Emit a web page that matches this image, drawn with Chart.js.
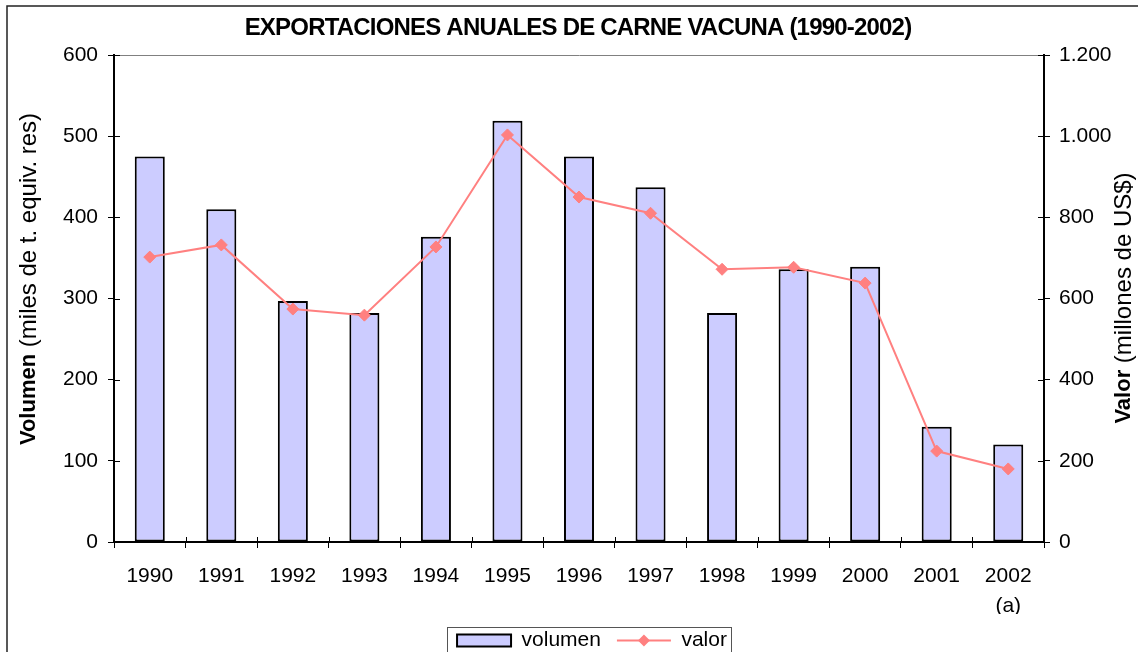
<!DOCTYPE html>
<html>
<head>
<meta charset="utf-8">
<script src="https://cdn.jsdelivr.net/npm/chart.js@4"></script>
<style>
html, body { margin: 0; padding: 0; background: #fff; overflow: hidden; }
#wrap { width: 1138px; height: 652px; overflow: hidden; }
</style>
</head>
<body>
<div id="wrap"><canvas id="chart" width="1138" height="661"></canvas></div>
<script>
var years = ["1990", "1991", "1992", "1993", "1994", "1995", "1996", "1997", "1998", "1999", "2000", "2001", "2002"];
var yearNotes = { "2002": "(a)" };
var volumen = [475, 410, 297, 282, 376, 519, 475, 437, 282, 336, 339, 142, 120];
var valor = [702, 732, 574, 559, 727, 1003, 850, 810, 672, 677, 638, 224, 180];
var volTicks = { min: 0, max: 600, step: 100 };
var valTicks = { min: 0, max: 1200, step: 200 };

var FONT = "'Liberation Sans', Arial, sans-serif";
var CANVAS_H = 661;
var PLOT_BOTTOM = 542;

function drawMixedTitle(ctx, x, y, boldText, restText) {
    ctx.save();
    ctx.translate(x, y);
    ctx.rotate(-Math.PI / 2);
    ctx.textBaseline = "middle";
    ctx.textAlign = "left";
    ctx.fillStyle = "#000";
    ctx.font = "bold 22px " + FONT;
    var w1 = ctx.measureText(boldText).width;
    ctx.font = "24px " + FONT;
    var w2 = ctx.measureText(restText).width;
    var start = -(w1 + w2) / 2;
    ctx.font = "bold 22px " + FONT;
    ctx.fillText(boldText, start, 0);
    ctx.font = "24px " + FONT;
    ctx.fillText(restText, start + w1, 0);
    ctx.restore();
}

var decor = {
    id: "decor",
    beforeDraw: function(chart) {
        var ctx = chart.ctx;
        ctx.save();
        ctx.fillStyle = "#fff";
        ctx.fillRect(0, 0, chart.width, chart.height);
        ctx.strokeStyle = "#222";
        ctx.lineWidth = 1.5;
        ctx.strokeRect(7, 6, 1200, 720);
        ctx.restore();
    },
    afterDraw: function(chart) {
        var ctx = chart.ctx;
        var area = chart.chartArea;
        ctx.save();

        // title
        ctx.fillStyle = "#000";
        ctx.font = "bold 24px " + FONT;
        ctx.letterSpacing = "-0.8px";
        ctx.textAlign = "center";
        ctx.textBaseline = "middle";
        ctx.fillText("EXPORTACIONES ANUALES DE CARNE VACUNA (1990-2002)", 578, 28);
        ctx.letterSpacing = "0px";

        // axis titles
        drawMixedTitle(ctx, 29, 279, "Volumen", " (miles de t. equiv. res)");
        drawMixedTitle(ctx, 1124, 298, "Valor", " (millones de US$)");

        // inward tick marks
        ctx.strokeStyle = "#000";
        ctx.lineWidth = 1;
        ctx.beginPath();
        chart.scales.yVol.ticks.forEach(function(t) {
            var y = Math.round(chart.scales.yVol.getPixelForValue(t.value)) + 0.5;
            ctx.moveTo(area.left, y);
            ctx.lineTo(area.left + 6, y);
        });
        chart.scales.yVal.ticks.forEach(function(t) {
            var y = Math.round(chart.scales.yVal.getPixelForValue(t.value)) + 0.5;
            ctx.moveTo(area.right - 6, y);
            ctx.lineTo(area.right, y);
        });
        var n = years.length;
        for (var i = 0; i <= n; i++) {
            var x = Math.round(area.left + i * (area.right - area.left) / n) + 0.5;
            ctx.moveTo(x, area.bottom - 5);
            ctx.lineTo(x, area.bottom);
        }
        ctx.stroke();

        // legend frame and line swatch
        var boxes = chart.legend.legendHitBoxes;
        if (boxes && boxes.length === 2) {
            var first = boxes[0], last = boxes[1];
            var cy = first.top + first.height / 2;
            ctx.strokeStyle = "#555";
            ctx.lineWidth = 1;
            ctx.strokeRect(Math.round(first.left - 10) + 0.5, Math.round(cy - 14) + 0.5,
                Math.round(last.left + last.width + 4 - (first.left - 10)), 80);
            ctx.strokeStyle = "#FF8080";
            ctx.lineWidth = 2;
            ctx.beginPath();
            ctx.moveTo(last.left, cy);
            ctx.lineTo(last.left + 54, cy);
            ctx.stroke();
            ctx.fillStyle = "#FF8080";
            ctx.beginPath();
            ctx.moveTo(last.left + 27 - 6, cy);
            ctx.lineTo(last.left + 27, cy - 6);
            ctx.lineTo(last.left + 27 + 6, cy);
            ctx.lineTo(last.left + 27, cy + 6);
            ctx.closePath();
            ctx.fill();
        }
        ctx.restore();
    }
};

var ctx = document.getElementById("chart").getContext("2d");
var chart = new Chart(ctx, {
    type: "bar",
    data: {
        labels: years,
        datasets: [{
            type: "bar",
            label: "volumen",
            data: volumen,
            yAxisID: "yVol",
            backgroundColor: "#CCCCFF",
            borderColor: "#000000",
            borderWidth: 2,
            borderSkipped: false,
            barPercentage: 0.42,
            categoryPercentage: 1,
            order: 2
        }, {
            type: "line",
            label: "valor",
            data: valor,
            yAxisID: "yVal",
            borderColor: "#FF8080",
            backgroundColor: "#FF8080",
            borderWidth: 2,
            pointStyle: "rectRot",
            pointRadius: 6,
            pointBorderColor: "#FF8080",
            pointBackgroundColor: "#FF8080",
            pointBorderWidth: 1,
            tension: 0,
            fill: false,
            order: 1
        }]
    },
    options: {
        responsive: false,
        animation: false,
        layout: { padding: { left: 46, top: 55, right: 0, bottom: 0 } },
        scales: {
            x: {
                offset: true,
                grid: { display: true, drawOnChartArea: false, tickLength: 6, color: "#000", offset: true },
                border: { color: "#000", width: 2 },
                ticks: {
                    color: "#000",
                    font: { family: FONT, size: 21, lineHeight: 1.45 },
                    padding: 13,
                    maxRotation: 0,
                    autoSkip: false,
                    callback: function(value, index) {
                        var y = years[index];
                        return yearNotes[y] ? [y, yearNotes[y]] : y;
                    }
                },
                afterFit: function(scale) {
                    scale.height = CANVAS_H - PLOT_BOTTOM - scale.chart.legend.height;
                }
            },
            yVol: {
                position: "left",
                min: volTicks.min,
                max: volTicks.max,
                ticks: { stepSize: volTicks.step, color: "#000", font: { family: FONT, size: 21 }, padding: 10 },
                grid: {
                    color: function(c) { return c.tick && c.tick.value === volTicks.max ? "#808080" : "rgba(0,0,0,0)"; },
                    tickColor: "#000",
                    tickLength: 6,
                    lineWidth: 1
                },
                border: { color: "#000", width: 2 },
                afterFit: function(scale) { scale.width = 68; }
            },
            yVal: {
                position: "right",
                min: valTicks.min,
                max: valTicks.max,
                ticks: {
                    stepSize: valTicks.step,
                    color: "#000",
                    font: { family: FONT, size: 21 },
                    padding: 9,
                    callback: function(v) { return String(v).replace(/\B(?=(\d{3})+(?!\d))/g, "."); }
                },
                grid: { drawOnChartArea: false, tickColor: "#000", tickLength: 6 },
                border: { color: "#000", width: 2 },
                afterFit: function(scale) { scale.width = 94; }
            }
        },
        plugins: {
            title: { display: false },
            tooltip: { enabled: false },
            legend: {
                position: "bottom",
                labels: {
                    color: "#000",
                    font: { family: FONT, size: 21 },
                    boxWidth: 54,
                    boxHeight: 12,
                    padding: 16,
                    sort: function(a, b) { return a.datasetIndex - b.datasetIndex; },
                    generateLabels: function(chart) {
                        var items = Chart.defaults.plugins.legend.labels.generateLabels(chart);
                        items.forEach(function(it) {
                            if (it.datasetIndex === 1) {
                                it.fillStyle = "rgba(0,0,0,0)";
                                it.strokeStyle = "rgba(0,0,0,0)";
                                it.lineWidth = 0;
                            } else {
                                it.fillStyle = "#CCCCFF";
                                it.strokeStyle = "#000";
                                it.lineWidth = 2;
                            }
                        });
                        return items;
                    }
                }
            }
        }
    },
    plugins: [decor]
});
</script>
</body>
</html>
